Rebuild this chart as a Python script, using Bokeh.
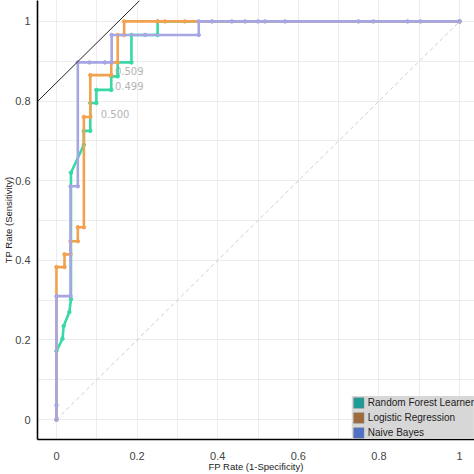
from bokeh.plotting import figure
from bokeh.models import (Range1d, FixedTicker, CustomJSTickFormatter, Legend,
                          LegendItem, Slope)
from bokeh.core.properties import value
from bokeh.embed import file_html
from bokeh.resources import INLINE

# ROC curves: (false positive rate, true positive rate) per classifier
rf_fpr = [0, 0, 0.015, 0.018, 0.032, 0.036, 0.036, 0.068, 0.068, 0.084, 0.084,
          0.099, 0.099, 0.136, 0.136, 0.152, 0.152, 0.186, 0.186, 0.251, 0.251, 1.0]
rf_tpr = [0, 0.172, 0.203, 0.235, 0.27, 0.302, 0.62, 0.69, 0.725, 0.725, 0.795,
          0.795, 0.828, 0.828, 0.862, 0.862, 0.897, 0.897, 0.966, 0.966, 1.0, 1.0]

lr_fpr = [0, 0, 0.02, 0.02, 0.035, 0.035, 0.053, 0.053, 0.068, 0.068, 0.084,
          0.084, 0.136, 0.136, 0.152, 0.152, 0.168, 0.168, 0.251, 0.269, 0.318, 1.0]
lr_tpr = [0, 0.383, 0.383, 0.415, 0.415, 0.448, 0.448, 0.483, 0.483, 0.76, 0.76,
          0.865, 0.865, 0.897, 0.897, 0.966, 0.966, 1.0, 1.0, 1.0, 1.0, 1.0]

nb_fpr = [0, 0, 0, 0.035, 0.035, 0.053, 0.053, 0.082, 0.12, 0.137, 0.137, 0.22,
          0.353, 0.353, 0.386, 0.435, 0.468, 0.5, 0.517, 0.567, 0.749, 0.786,
          0.871, 0.903, 1.0]
nb_tpr = [0, 0.036, 0.31, 0.31, 0.586, 0.586, 0.897, 0.897, 0.897, 0.897, 0.966,
          0.966, 0.966, 1.0, 1.0, 1.0, 1.0, 1.0, 1.0, 1.0, 1.0, 1.0, 1.0, 1.0, 1.0]

# threshold annotations
thr_text = ["0.509", "0.499", "0.500"]
thr_x = [0.145, 0.145, 0.110]
thr_y = [0.875, 0.838, 0.767]

# tangent iso-performance line
iso_slope = 1.0
iso_intercept = 0.846

series_names = ["Random Forest Learner", "Logistic Regression", "Naive Bayes"]
line_colors = ["#38d9a6", "#f2a24e", "#a6a6e4"]
legend_colors = ["#1b9c95", "#a06a3d", "#5070c8"]

ticks = [0, 0.2, 0.4, 0.6, 0.8, 1]
minor = [0.1, 0.3, 0.5, 0.7, 0.9]

p = figure(width=474, height=474, output_backend="svg", toolbar_location=None,
           x_range=Range1d(-0.047, 1.037), y_range=Range1d(-0.05, 1.0525),
           min_border_left=30, min_border_bottom=28, min_border_top=0,
           min_border_right=0)
p.outline_line_color = None
p.background_fill_color = "white"
p.border_fill_color = "white"

fmt = CustomJSTickFormatter(code="return String(tick);")
for ax, lab in ((p.xaxis[0], "FP Rate (1-Specificity)"),
                (p.yaxis[0], "TP Rate (Sensitivity)")):
    ax.ticker = FixedTicker(ticks=ticks, minor_ticks=minor)
    ax.formatter = fmt
    ax.axis_label = lab
    ax.axis_label_text_font = "Liberation Sans"
    ax.axis_label_text_font_size = "9.5px"
    ax.axis_label_text_font_style = "normal"
    ax.axis_label_text_color = "#222222"
    ax.major_label_text_font = "Liberation Sans"
    ax.major_label_text_font_size = "11px"
    ax.major_label_text_color = "#444444"
    ax.major_tick_line_color = None
    ax.minor_tick_line_color = None
    ax.major_tick_out = 0
    ax.major_tick_in = 0
    ax.axis_line_color = "black"
    ax.axis_line_width = 1.6
p.xaxis.major_label_standoff = 8
p.xaxis.axis_label_standoff = -2
p.yaxis.major_label_standoff = 3
p.yaxis.axis_label_standoff = -2

for g in (p.xgrid[0], p.ygrid[0]):
    g.grid_line_color = "#ececec"
    g.minor_grid_line_color = "#ececec"
    g.grid_line_width = 1

# chance diagonal
p.line([0, 1], [0, 1], line_color="#cfcfcf", line_width=1, line_dash="4 3")

p.add_layout(Slope(gradient=iso_slope, y_intercept=iso_intercept,
                   line_color="#222222", line_width=1))

p.text(x=thr_x, y=thr_y, text=thr_text, text_font=value("DejaVu Sans"),
       text_font_size="10px", text_color="#b4b4b4", text_baseline="middle",
       text_align="left")

curves = [(rf_fpr, rf_tpr), (lr_fpr, lr_tpr), (nb_fpr, nb_tpr)]
for (fx, ty), c in zip(curves, line_colors):
    p.line(fx, ty, line_color=c, line_width=2.6)
    p.scatter(fx, ty, size=3.5, marker="circle", fill_color=c, line_color=c)

# legend swatches: square patches with no drawable extent
nan = float("nan")
items = []
for name, c in zip(series_names, legend_colors):
    r = p.quad(left=[nan], right=[nan], top=[nan], bottom=[nan], fill_color=c,
               line_color="#888888", line_width=0.5)
    items.append(LegendItem(label=name, renderers=[r], index=0))

legend = Legend(items=items, location="bottom_right", margin=0, padding=3,
                spacing=2, glyph_width=13, glyph_height=13, label_standoff=3,
                label_height=13, label_text_font="Liberation Sans",
                label_text_font_size="10px", label_text_color="#222222",
                background_fill_color="#d7d7d7", background_fill_alpha=1,
                border_line_color=None)
p.add_layout(legend)

open("out.html", "w").write(file_html(p, INLINE))
